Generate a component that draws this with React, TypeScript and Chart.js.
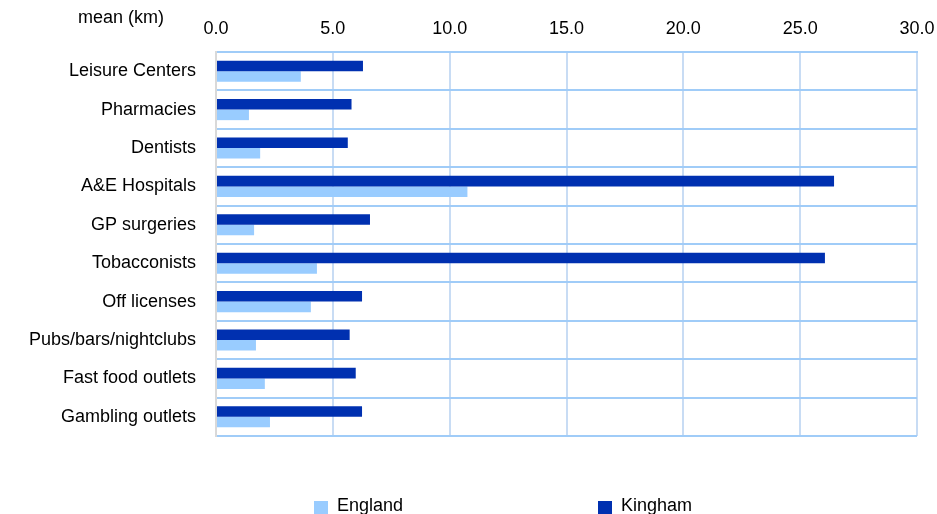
import React, { useEffect, useRef } from "react";
import { Chart, registerables } from "chart.js";

Chart.register(...registerables);

const categories = [
  "Leisure Centers",
  "Pharmacies",
  "Dentists",
  "A&E Hospitals",
  "GP surgeries",
  "Tobacconists",
  "Off licenses",
  "Pubs/bars/nightclubs",
  "Fast food outlets",
  "Gambling outlets",
];
const kinghamValues = [6.29, 5.8, 5.64, 26.45, 6.59, 26.06, 6.25, 5.72, 5.98, 6.25];
const englandValues = [3.63, 1.41, 1.89, 10.76, 1.63, 4.32, 4.06, 1.71, 2.09, 2.31];
const axisTitle = "mean (km)";
const xMin = 0;
const xMax = 30;
const xStep = 5;

const FONT = "'Liberation Sans', Arial, sans-serif";
const KINGHAM_COLOR = "#0030B0";
const ENGLAND_COLOR = "#99CCFF";

const titlePlugin = {
  id: "cornerTitle",
  afterDraw(chart: any) {
    const { ctx, chartArea } = chart;
    ctx.save();
    ctx.font = `18px ${FONT}`;
    ctx.fillStyle = "#000";
    ctx.textAlign = "center";
    ctx.textBaseline = "middle";
    ctx.fillText(axisTitle, chartArea.left - 95, 18);
    ctx.restore();
  },
};

const legendPlugin = {
  id: "spacedLegend",
  afterDraw(chart: any) {
    const { ctx, chartArea } = chart;
    const items = [...chart.data.datasets].reverse();
    const offsets = [98, 382];
    ctx.save();
    ctx.font = `18px ${FONT}`;
    ctx.textAlign = "left";
    ctx.textBaseline = "middle";
    items.forEach((ds: any, i: number) => {
      const x = chartArea.left + offsets[i];
      const y = chartArea.bottom + 65;
      ctx.fillStyle = ds.backgroundColor;
      ctx.fillRect(x, y, 14, 14);
      ctx.fillStyle = "#000";
      ctx.fillText(ds.label, x + 23, y + 5);
    });
    ctx.restore();
  },
};

export default function App() {
  const canvasRef = useRef<HTMLCanvasElement | null>(null);

  useEffect(() => {
    if (!canvasRef.current) return;
    const chart = new Chart(canvasRef.current, {
      type: "bar",
      data: {
        labels: categories,
        datasets: [
          {
            label: "Kingham",
            data: kinghamValues,
            backgroundColor: KINGHAM_COLOR,
            borderWidth: 0,
            categoryPercentage: 0.55,
            barPercentage: 1,
          },
          {
            label: "England",
            data: englandValues,
            backgroundColor: ENGLAND_COLOR,
            borderWidth: 0,
            categoryPercentage: 0.55,
            barPercentage: 1,
          },
        ],
      },
      options: {
        indexAxis: "y",
        animation: false,
        responsive: true,
        maintainAspectRatio: false,
        layout: { padding: { left: 0, right: 20, top: 0, bottom: 78 } },
        plugins: {
          legend: { display: false },
          tooltip: { enabled: false },
          title: { display: false },
        },
        scales: {
          x: {
            position: "top",
            min: xMin,
            max: xMax,
            afterFit: (scale: any) => {
              scale.height = 52;
              scale.paddingLeft = 0;
              scale.paddingRight = 0;
            },
            ticks: {
              stepSize: xStep,
              padding: 12,
              color: "#000",
              font: { family: FONT, size: 18 },
              callback: (v: any) => Number(v).toFixed(1),
            },
            grid: {
              color: (c: any) => (c.tick && c.tick.value === 0 ? "rgba(0,0,0,0)" : "#C8DCF4"),
              lineWidth: 2,
              drawTicks: false,
            },
            border: { display: true, color: "#A0CCF8", width: 2 },
          },
          y: {
            afterFit: (scale: any) => {
              scale.width = 216;
            },
            ticks: {
              padding: 20,
              color: "#000",
              font: { family: FONT, size: 18 },
            },
            grid: {
              color: "#A0CCF8",
              lineWidth: 2,
              drawTicks: false,
              offset: true,
            },
            border: { display: true, color: "#D9D9D9", width: 2 },
          },
        },
      },
      plugins: [titlePlugin, legendPlugin],
    } as any);
    return () => chart.destroy();
  }, []);

  return (
    <div style={{ position: "fixed", left: 0, top: 0, width: 937, height: 514, background: "#fff" }}>
      <canvas ref={canvasRef} />
    </div>
  );
}
